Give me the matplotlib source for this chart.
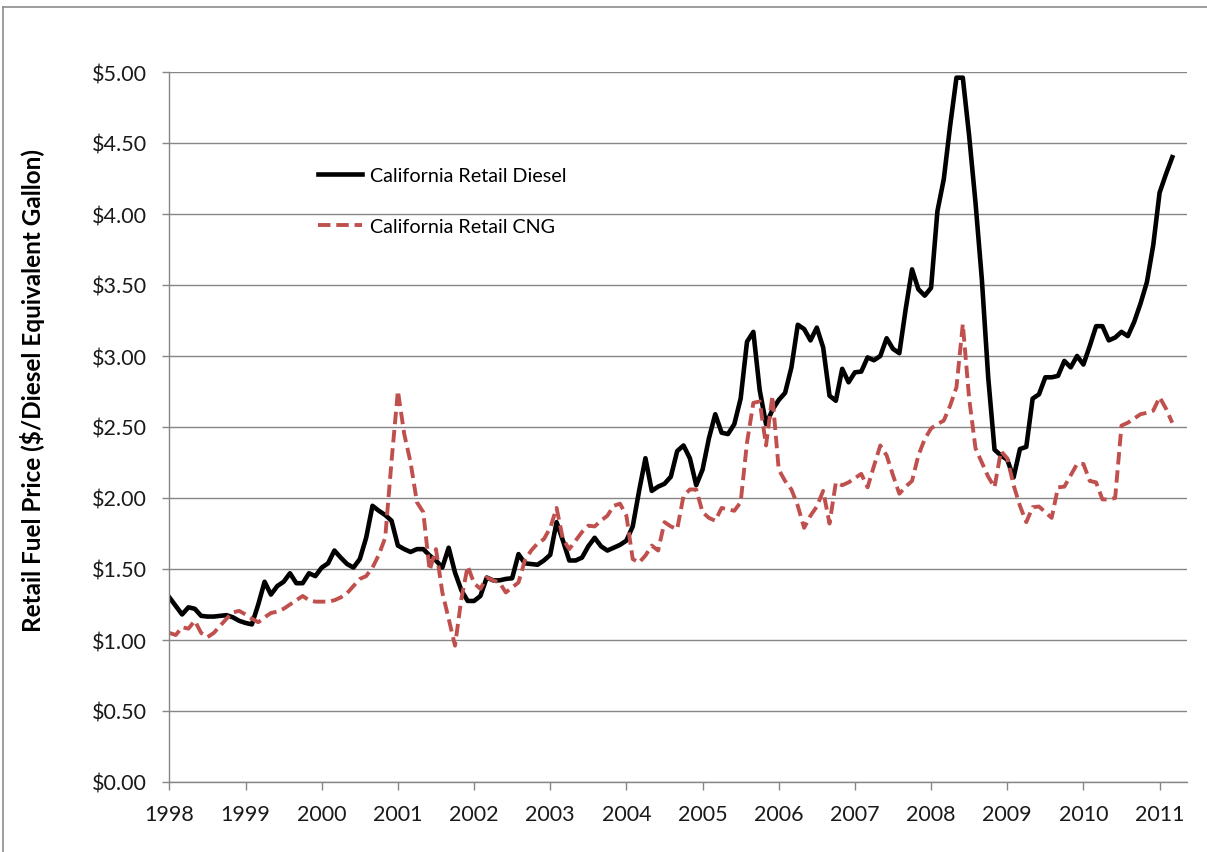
import numpy as np
import matplotlib
matplotlib.use("Agg")
import matplotlib.pyplot as plt
from matplotlib.lines import Line2D

plt.rcParams['font.family'] = ['Lato', 'DejaVu Sans']

start_year = 1998
year_ticks = list(range(1998, 2012))

diesel = [
    1.30, 1.24, 1.18, 1.23, 1.22, 1.17, 1.165, 1.165, 1.17, 1.175, 1.16, 1.135,
    1.12, 1.11, 1.25, 1.41, 1.32, 1.38, 1.41, 1.47, 1.40, 1.40, 1.47, 1.45,
    1.51, 1.54, 1.63, 1.58, 1.535, 1.51, 1.57, 1.72, 1.945, 1.91, 1.88, 1.84,
    1.665, 1.64, 1.62, 1.64, 1.64, 1.595, 1.56, 1.51, 1.65, 1.475, 1.35, 1.275,
    1.275, 1.31, 1.44, 1.42, 1.42, 1.43, 1.435, 1.605, 1.54, 1.535, 1.53, 1.56,
    1.60, 1.83, 1.70, 1.56, 1.56, 1.58, 1.66, 1.72, 1.66, 1.63, 1.65, 1.67,
    1.70, 1.80, 2.05, 2.28, 2.05, 2.08, 2.10, 2.15, 2.33, 2.37, 2.28, 2.09,
    2.20, 2.42, 2.59, 2.46, 2.45, 2.52, 2.70, 3.10, 3.17, 2.76, 2.52, 2.62,
    2.69, 2.74, 2.92, 3.22, 3.19, 3.11, 3.20, 3.06, 2.72, 2.685, 2.91, 2.815,
    2.885, 2.89, 2.99, 2.97, 3.00, 3.125, 3.05, 3.02, 3.33, 3.61, 3.47, 3.425,
    3.48, 4.02, 4.245, 4.62, 4.96, 4.96, 4.55, 4.08, 3.54, 2.85, 2.34, 2.30,
    2.27, 2.145, 2.345, 2.36, 2.70, 2.73, 2.85, 2.85, 2.86, 2.965, 2.92, 3.00,
    2.94, 3.07, 3.21, 3.21, 3.11, 3.13, 3.17, 3.14, 3.24, 3.37, 3.52, 3.78,
    4.15, 4.28, 4.40,
]

cng = [
    1.05, 1.035, 1.09, 1.08, 1.135, 1.05, 1.02, 1.05, 1.10, 1.15, 1.195, 1.205,
    1.18, 1.15, 1.125, 1.16, 1.19, 1.20, 1.22, 1.25, 1.28, 1.31, 1.28, 1.27,
    1.27, 1.27, 1.28, 1.30, 1.33, 1.38, 1.43, 1.45, 1.51, 1.60, 1.72, 2.26,
    2.755, 2.45, 2.25, 1.97, 1.90, 1.49, 1.64, 1.335, 1.15, 0.96, 1.29, 1.52,
    1.40, 1.36, 1.44, 1.42, 1.405, 1.335, 1.37, 1.405, 1.56, 1.63, 1.68, 1.71,
    1.79, 1.93, 1.71, 1.64, 1.70, 1.76, 1.805, 1.80, 1.84, 1.875, 1.945, 1.96,
    1.875, 1.57, 1.545, 1.595, 1.665, 1.63, 1.83, 1.80, 1.78, 2.015, 2.06, 2.06,
    1.90, 1.86, 1.84, 1.93, 1.92, 1.91, 1.97, 2.39, 2.67, 2.68, 2.37, 2.72,
    2.20, 2.12, 2.06, 1.945, 1.79, 1.875, 1.94, 2.05, 1.82, 2.11, 2.09, 2.11,
    2.14, 2.17, 2.075, 2.225, 2.37, 2.30, 2.16, 2.03, 2.08, 2.12, 2.30, 2.415,
    2.49, 2.52, 2.545, 2.65, 2.78, 3.225, 2.70, 2.35, 2.25, 2.15, 2.075, 2.33,
    2.28, 2.09, 1.945, 1.83, 1.935, 1.94, 1.90, 1.86, 2.075, 2.08, 2.16, 2.24,
    2.24, 2.12, 2.11, 1.99, 1.99, 2.00, 2.51, 2.53, 2.56, 2.59, 2.60, 2.615,
    2.71, 2.63, 2.53,
]

labels = ["California Retail Diesel", "California Retail CNG"]
ylabel = "Retail Fuel Price ($/Diesel Equivalent Gallon)"

x = start_year + np.arange(len(diesel)) / 12.0

W, H = 1207, 853
fig = plt.figure(figsize=(W / 100, H / 100), dpi=100)
ax = fig.add_axes([169 / W, 1 - 783 / H, (1187 - 169) / W, (783 - 73) / H])

gray = '#868686'
ax.set_ylim(0, 5)
ax.set_xlim(1997.995, 2011.36)
ax.set_yticks(np.arange(0, 5.01, 0.5))
ax.set_yticklabels([f"${v:.2f}" for v in np.arange(0, 5.01, 0.5)])
ax.set_xticks(year_ticks)
ax.set_xticklabels([str(y) for y in year_ticks])
ax.grid(axis='y', color=gray, linewidth=1.0)
ax.set_axisbelow(True)
for s in ['top', 'right']:
    ax.spines[s].set_visible(False)
for s in ['left', 'bottom']:
    ax.spines[s].set_color(gray)
    ax.spines[s].set_linewidth(1.0)
ax.tick_params(axis='both', colors=gray, labelcolor='#1a1a1a', labelsize=15.5)
ax.tick_params(axis='y', length=5, width=1, pad=11)
ax.tick_params(axis='x', length=6, width=1, pad=10)

ax.plot(x, diesel, color='black', linewidth=3.3, label=labels[0], solid_joinstyle='round')
ax.plot(x, cng, color='#C0504D', linewidth=2.8, linestyle=(0, (3.2, 1.5)), label=labels[1])

leg = ax.legend(loc='upper left', bbox_to_anchor=(0.146, 0.866), frameon=False,
                fontsize=14.2, handlelength=2.25, handletextpad=0.4,
                labelspacing=1.72, borderpad=0, borderaxespad=0)

fig.text(33 / W, 1 - 391 / H, ylabel, rotation=90, ha='center', va='center',
         fontsize=17.5, fontweight='bold', color='#000000')

# outer chart border
fig.add_artist(Line2D([3 / W, 1.0], [1 - 8 / H, 1 - 8 / H], transform=fig.transFigure,
                      color='#8c8c8c', linewidth=1.2))
fig.add_artist(Line2D([3 / W, 3 / W], [0.0, 1 - 8 / H], transform=fig.transFigure,
                      color='#8c8c8c', linewidth=1.2))

fig.savefig('out.png', dpi=100, facecolor='white')
